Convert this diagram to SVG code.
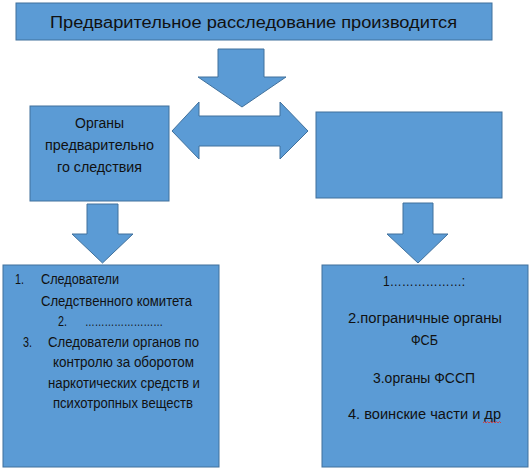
<svg xmlns="http://www.w3.org/2000/svg" width="531" height="470" viewBox="0 0 531 470">
<style>
.box{fill:#5B9BD5;stroke:#41719C;stroke-width:1}
.arr{fill:#5B9BD5;stroke:#41719C;stroke-width:1;stroke-linejoin:miter}
text{font-family:"Liberation Sans",Arial,sans-serif;fill:#111;font-size:14px}
.t{font-size:16px}
</style>
<rect width="531" height="470" fill="#fff"/>
<g id="connectors">
<polygon class="arr" points="218,49 264,49 264,77 286,77 242,107 198,77 218,77"/>
<polygon class="arr" points="172,131 199,102 199,116 280,116 280,102 308,131 280,159 280,146 199,146 199,159"/>
<polygon class="arr" points="87,204 118,204 118,234 133,234 102.5,263 72,234 87,234"/>
<polygon class="arr" points="403,203 433,203 433,234 448,234 418,263 387,234 403,234"/>
</g>
<g id="node-top">
<rect class="box" x="16" y="3" width="476" height="37"/>
<text class="t" x="50" y="28" textLength="407" lengthAdjust="spacingAndGlyphs">Предварительное расследование производится</text>
</g>
<g id="node-left">
<rect class="box" x="30" y="106" width="139" height="95"/>
<text x="75" y="128" textLength="49" lengthAdjust="spacingAndGlyphs">Органы</text>
<text x="45" y="150" textLength="109" lengthAdjust="spacingAndGlyphs">предварительно</text>
<text x="57" y="172" textLength="85" lengthAdjust="spacingAndGlyphs">го следствия</text>
</g>
<g id="node-right">
<rect class="box" x="316" y="112" width="186" height="86"/>
</g>
<g id="node-left-bottom">
<rect class="box" x="3" y="265" width="216" height="202"/>
<text x="15" y="284" textLength="9" lengthAdjust="spacingAndGlyphs">1.</text>
<text x="41" y="284" textLength="78" lengthAdjust="spacingAndGlyphs">Следователи</text>
<text x="41" y="306" textLength="151" lengthAdjust="spacingAndGlyphs">Следственного комитета</text>
<text x="58" y="326" textLength="9" lengthAdjust="spacingAndGlyphs">2.</text>
<text x="85" y="326" textLength="78" lengthAdjust="spacingAndGlyphs">……………………</text>
<text x="23" y="347" textLength="9" lengthAdjust="spacingAndGlyphs">3.</text>
<text x="48" y="347" textLength="151" lengthAdjust="spacingAndGlyphs">Следователи органов по</text>
<text x="53" y="367" textLength="141" lengthAdjust="spacingAndGlyphs">контролю за оборотом</text>
<text x="48" y="388" textLength="152" lengthAdjust="spacingAndGlyphs">наркотических средств и</text>
<text x="53" y="408" textLength="140" lengthAdjust="spacingAndGlyphs">психотропных веществ</text>
</g>
<g id="node-right-bottom">
<rect class="box" x="322" y="265" width="206" height="202"/>
<text x="383" y="286" textLength="82" lengthAdjust="spacingAndGlyphs">1………………:</text>
<text x="348" y="323" textLength="154" lengthAdjust="spacingAndGlyphs">2.пограничные органы</text>
<text x="411" y="345" textLength="27" lengthAdjust="spacingAndGlyphs">ФСБ</text>
<text x="373" y="383" textLength="102" lengthAdjust="spacingAndGlyphs">3.органы ФССП</text>
<text x="348" y="419" textLength="153" lengthAdjust="spacingAndGlyphs">4. воинские части и др</text>
<path d="M483,423 l1.5,-1.5 l1.5,1.5 l1.5,-1.5 l1.5,1.5 l1.5,-1.5 l1.5,1.5 l1.5,-1.5 l1.5,1.5 l1.5,-1.5 l1.5,1.5 l1.5,-1.5 l1.5,1.5" fill="none" stroke="#e03030" stroke-width="0.8"/>
</g>
</svg>
